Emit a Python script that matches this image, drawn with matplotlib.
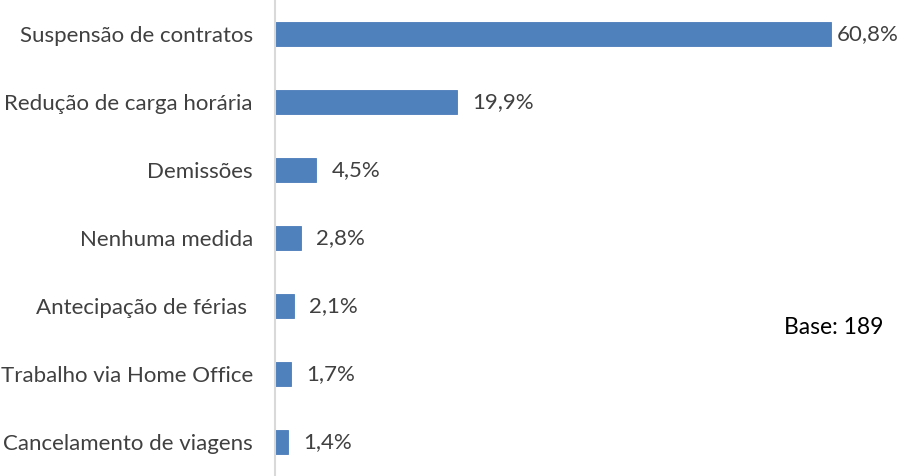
import matplotlib.pyplot as plt

plt.rcParams['font.family'] = ['Lato', 'DejaVu Sans']

categorias = ["Suspensão de contratos", "Redução de carga horária", "Demissões",
              "Nenhuma medida", "Antecipação de férias ", "Trabalho via Home Office",
              "Cancelamento de viagens"]
valores = [60.8, 19.9, 4.5, 2.8, 2.1, 1.7, 1.4]
rotulos = ["60,8%", "19,9%", "4,5%", "2,8%", "2,1%", "1,7%", "1,4%"]

fig = plt.figure(figsize=(9.09, 4.76), dpi=100)
ax = fig.add_axes([275 / 909, 0, 634 / 909, 1])

pos = list(range(len(categorias)))
bars = ax.barh(pos, valores, height=0.35, color="#4f81bd", edgecolor="#4a7cb8", linewidth=0.6)
ax.set_ylim(6.5, -0.5)
ax.set_xlim(0, 634 / 9.145)

for i, (b, txt) in enumerate(zip(bars, rotulos)):
    off = 4 if i == 0 else 11
    ax.annotate(txt, (b.get_width(), b.get_y() + b.get_height() / 2),
                xytext=(off, 0), textcoords="offset points", va="center", ha="left",
                fontsize=16, color="#404040")

ax.set_yticks(pos)
ax.set_yticklabels(categorias, fontsize=16, color="#404040")
ax.tick_params(axis="y", length=0, pad=16)
ax.set_xticks([])
for s in ["top", "right", "bottom"]:
    ax.spines[s].set_visible(False)
ax.spines["left"].set_color("#d9d9d9")
ax.spines["left"].set_linewidth(1.5)

fig.text(834 / 909, 1 - 327 / 476, "Base: 189", ha="center", va="center", fontsize=16.5, color="black")

fig.savefig("out.png", dpi=100)
